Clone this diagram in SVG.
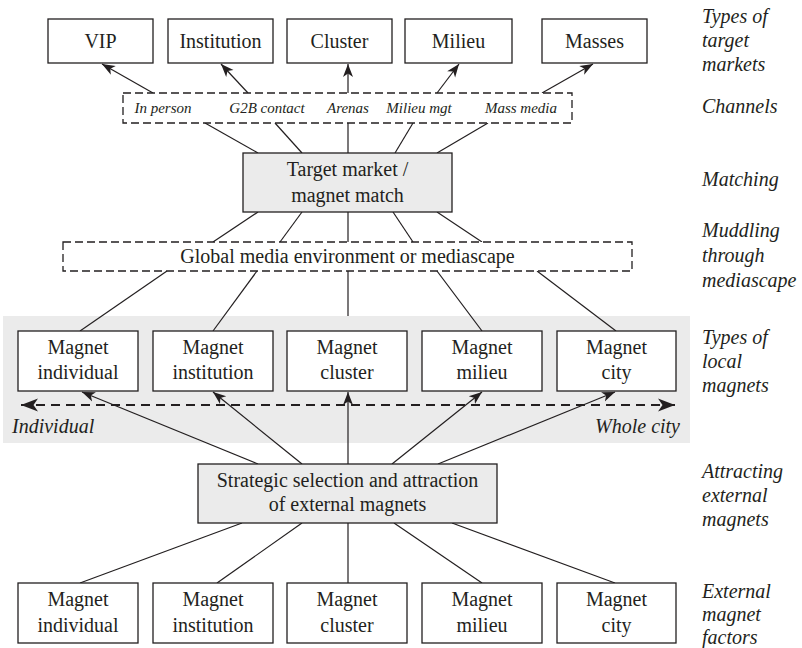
<svg xmlns="http://www.w3.org/2000/svg" width="802" height="648" viewBox="0 0 802 648">
<defs>
<style>
.box{fill:#fff;stroke:#231f20;stroke-width:1.3}
.gbox{fill:#ebebeb;stroke:#231f20;stroke-width:1.3}
.dbox{fill:#fff;stroke:#231f20;stroke-width:1.3;stroke-dasharray:8 4}
.t{font-size:20px;text-anchor:middle}
.ci{font-size:15px;font-style:italic;text-anchor:middle}
.ri{font-size:20px;font-style:italic}
.ln{stroke:#231f20;stroke-width:1.2;fill:none}
.ar{stroke:#231f20;stroke-width:1.2;fill:none;marker-end:url(#ah)}
</style>
<marker id="ah" markerUnits="userSpaceOnUse" markerWidth="14" markerHeight="12" viewBox="0 0 14 12" refX="13" refY="6" orient="auto">
<path d="M0,1 L13,6 L0,11 L3.5,6 Z" fill="#231f20"/>
</marker>
<marker id="ah2" markerUnits="userSpaceOnUse" markerWidth="18" markerHeight="14" viewBox="0 0 18 14" refX="17" refY="7" orient="auto-start-reverse">
<path d="M0,0.5 L17,7 L0,13.5 L4.5,7 Z" fill="#231f20"/>
</marker>
</defs>
<rect id="band" x="3" y="316" width="687" height="127" fill="#ebebeb"/>
<g id="connectors">
<line class="ar" x1="153" y1="93" x2="102" y2="64"/>
<line class="ar" x1="248" y1="93" x2="221" y2="64"/>
<line class="ar" x1="348" y1="93" x2="348" y2="64"/>
<line class="ar" x1="437" y1="93" x2="459" y2="64"/>
<line class="ar" x1="542" y1="93" x2="593" y2="64"/>
<line class="ln" x1="205" y1="123" x2="258" y2="153"/>
<line class="ln" x1="275" y1="123" x2="302" y2="153"/>
<line class="ln" x1="348" y1="123" x2="348" y2="153"/>
<line class="ln" x1="413" y1="123" x2="395" y2="153"/>
<line class="ln" x1="488" y1="123" x2="437" y2="153"/>
<line class="ln" x1="258" y1="212" x2="213" y2="242"/>
<line class="ln" x1="302" y1="212" x2="280" y2="242"/>
<line class="ln" x1="348" y1="212" x2="348" y2="242"/>
<line class="ln" x1="393" y1="212" x2="413" y2="242"/>
<line class="ln" x1="437" y1="212" x2="482" y2="242"/>
<line class="ln" x1="167" y1="271" x2="80" y2="331"/>
<line class="ln" x1="257" y1="271" x2="213" y2="331"/>
<line class="ln" x1="348" y1="271" x2="348" y2="316"/>
<line class="ln" x1="437" y1="271" x2="482" y2="331"/>
<line class="ln" x1="537" y1="271" x2="616" y2="331"/>
<line x1="21" y1="405" x2="675" y2="405" stroke="#231f20" stroke-width="2" stroke-dasharray="9 6" marker-start="url(#ah2)" marker-end="url(#ah2)"/>
<line class="ar" x1="258" y1="464" x2="82" y2="392"/>
<line class="ar" x1="302" y1="464" x2="213" y2="392"/>
<line class="ar" x1="348" y1="464" x2="348" y2="392"/>
<line class="ar" x1="392" y1="464" x2="482" y2="392"/>
<line class="ar" x1="438" y1="464" x2="615" y2="392"/>
<line class="ln" x1="242" y1="523" x2="80" y2="583"/>
<line class="ln" x1="302" y1="523" x2="217" y2="583"/>
<line class="ln" x1="348" y1="523" x2="348" y2="583"/>
<line class="ln" x1="394" y1="523" x2="482" y2="583"/>
<line class="ln" x1="452" y1="523" x2="615" y2="583"/>
</g>
<g font-family="Liberation Serif, serif" fill="#231f20">
<g id="vip"><rect class="box" x="48" y="19" width="105" height="44"/><text class="t" x="100.5" y="48">VIP</text></g>
<g id="institution"><rect class="box" x="168" y="19" width="105" height="44"/><text class="t" x="220.5" y="48">Institution</text></g>
<g id="cluster"><rect class="box" x="287" y="19" width="105" height="44"/><text class="t" x="339.5" y="48">Cluster</text></g>
<g id="milieu"><rect class="box" x="405" y="19" width="107" height="44"/><text class="t" x="458.5" y="48">Milieu</text></g>
<g id="masses"><rect class="box" x="542" y="19" width="105" height="44"/><text class="t" x="594.5" y="48">Masses</text></g>
<g id="channels">
<rect class="dbox" x="123" y="93" width="449" height="30"/>
<text class="ci" x="163" y="113">In person</text>
<text class="ci" x="267" y="113">G2B contact</text>
<text class="ci" x="348" y="113">Arenas</text>
<text class="ci" x="419" y="113">Milieu mgt</text>
<text class="ci" x="521" y="113">Mass media</text>
</g>
<g id="match"><rect class="gbox" x="243" y="153" width="209" height="59"/><text class="t" x="347.5" y="176">Target market /</text><text class="t" x="347.5" y="202">magnet match</text></g>
<g id="global"><rect class="dbox" x="63" y="242" width="569" height="29"/><text class="t" x="347.5" y="263">Global media environment or mediascape</text></g>
<g id="local-individual"><rect class="box" x="18" y="331" width="120" height="60"/><text class="t" x="78" y="354">Magnet</text><text class="t" x="78" y="379">individual</text></g>
<g id="local-institution"><rect class="box" x="153" y="331" width="120" height="60"/><text class="t" x="213" y="354">Magnet</text><text class="t" x="213" y="379">institution</text></g>
<g id="local-cluster"><rect class="box" x="287" y="331" width="120" height="60"/><text class="t" x="347" y="354">Magnet</text><text class="t" x="347" y="379">cluster</text></g>
<g id="local-milieu"><rect class="box" x="422" y="331" width="120" height="60"/><text class="t" x="482" y="354">Magnet</text><text class="t" x="482" y="379">milieu</text></g>
<g id="local-city"><rect class="box" x="557" y="331" width="119" height="60"/><text class="t" x="616.5" y="354">Magnet</text><text class="t" x="616.5" y="379">city</text></g>
<text class="ri" x="12" y="433">Individual</text>
<text class="ri" x="680" y="433" text-anchor="end">Whole city</text>
<g id="strategic"><rect class="gbox" x="198" y="464" width="299" height="59"/><text class="t" x="347.5" y="487">Strategic selection and attraction</text><text class="t" x="347.5" y="511">of external magnets</text></g>
<g id="ext-individual"><rect class="box" x="18" y="583" width="120" height="60"/><text class="t" x="78" y="606">Magnet</text><text class="t" x="78" y="632">individual</text></g>
<g id="ext-institution"><rect class="box" x="153" y="583" width="120" height="60"/><text class="t" x="213" y="606">Magnet</text><text class="t" x="213" y="632">institution</text></g>
<g id="ext-cluster"><rect class="box" x="287" y="583" width="120" height="60"/><text class="t" x="347" y="606">Magnet</text><text class="t" x="347" y="632">cluster</text></g>
<g id="ext-milieu"><rect class="box" x="422" y="583" width="120" height="60"/><text class="t" x="482" y="606">Magnet</text><text class="t" x="482" y="632">milieu</text></g>
<g id="ext-city"><rect class="box" x="557" y="583" width="119" height="60"/><text class="t" x="616.5" y="606">Magnet</text><text class="t" x="616.5" y="632">city</text></g>
<g id="labels">
<text class="ri" x="702" y="23">Types of</text>
<text class="ri" x="702" y="47">target</text>
<text class="ri" x="702" y="71">markets</text>
<text class="ri" x="702" y="113">Channels</text>
<text class="ri" x="702" y="186">Matching</text>
<text class="ri" x="702" y="237">Muddling</text>
<text class="ri" x="702" y="262">through</text>
<text class="ri" x="702" y="287">mediascape</text>
<text class="ri" x="702" y="344">Types of</text>
<text class="ri" x="702" y="368">local</text>
<text class="ri" x="702" y="392">magnets</text>
<text class="ri" x="702" y="478">Attracting</text>
<text class="ri" x="702" y="502">external</text>
<text class="ri" x="702" y="526">magnets</text>
<text class="ri" x="702" y="598">External</text>
<text class="ri" x="702" y="621">magnet</text>
<text class="ri" x="702" y="644">factors</text>
</g>
</g>
</svg>
